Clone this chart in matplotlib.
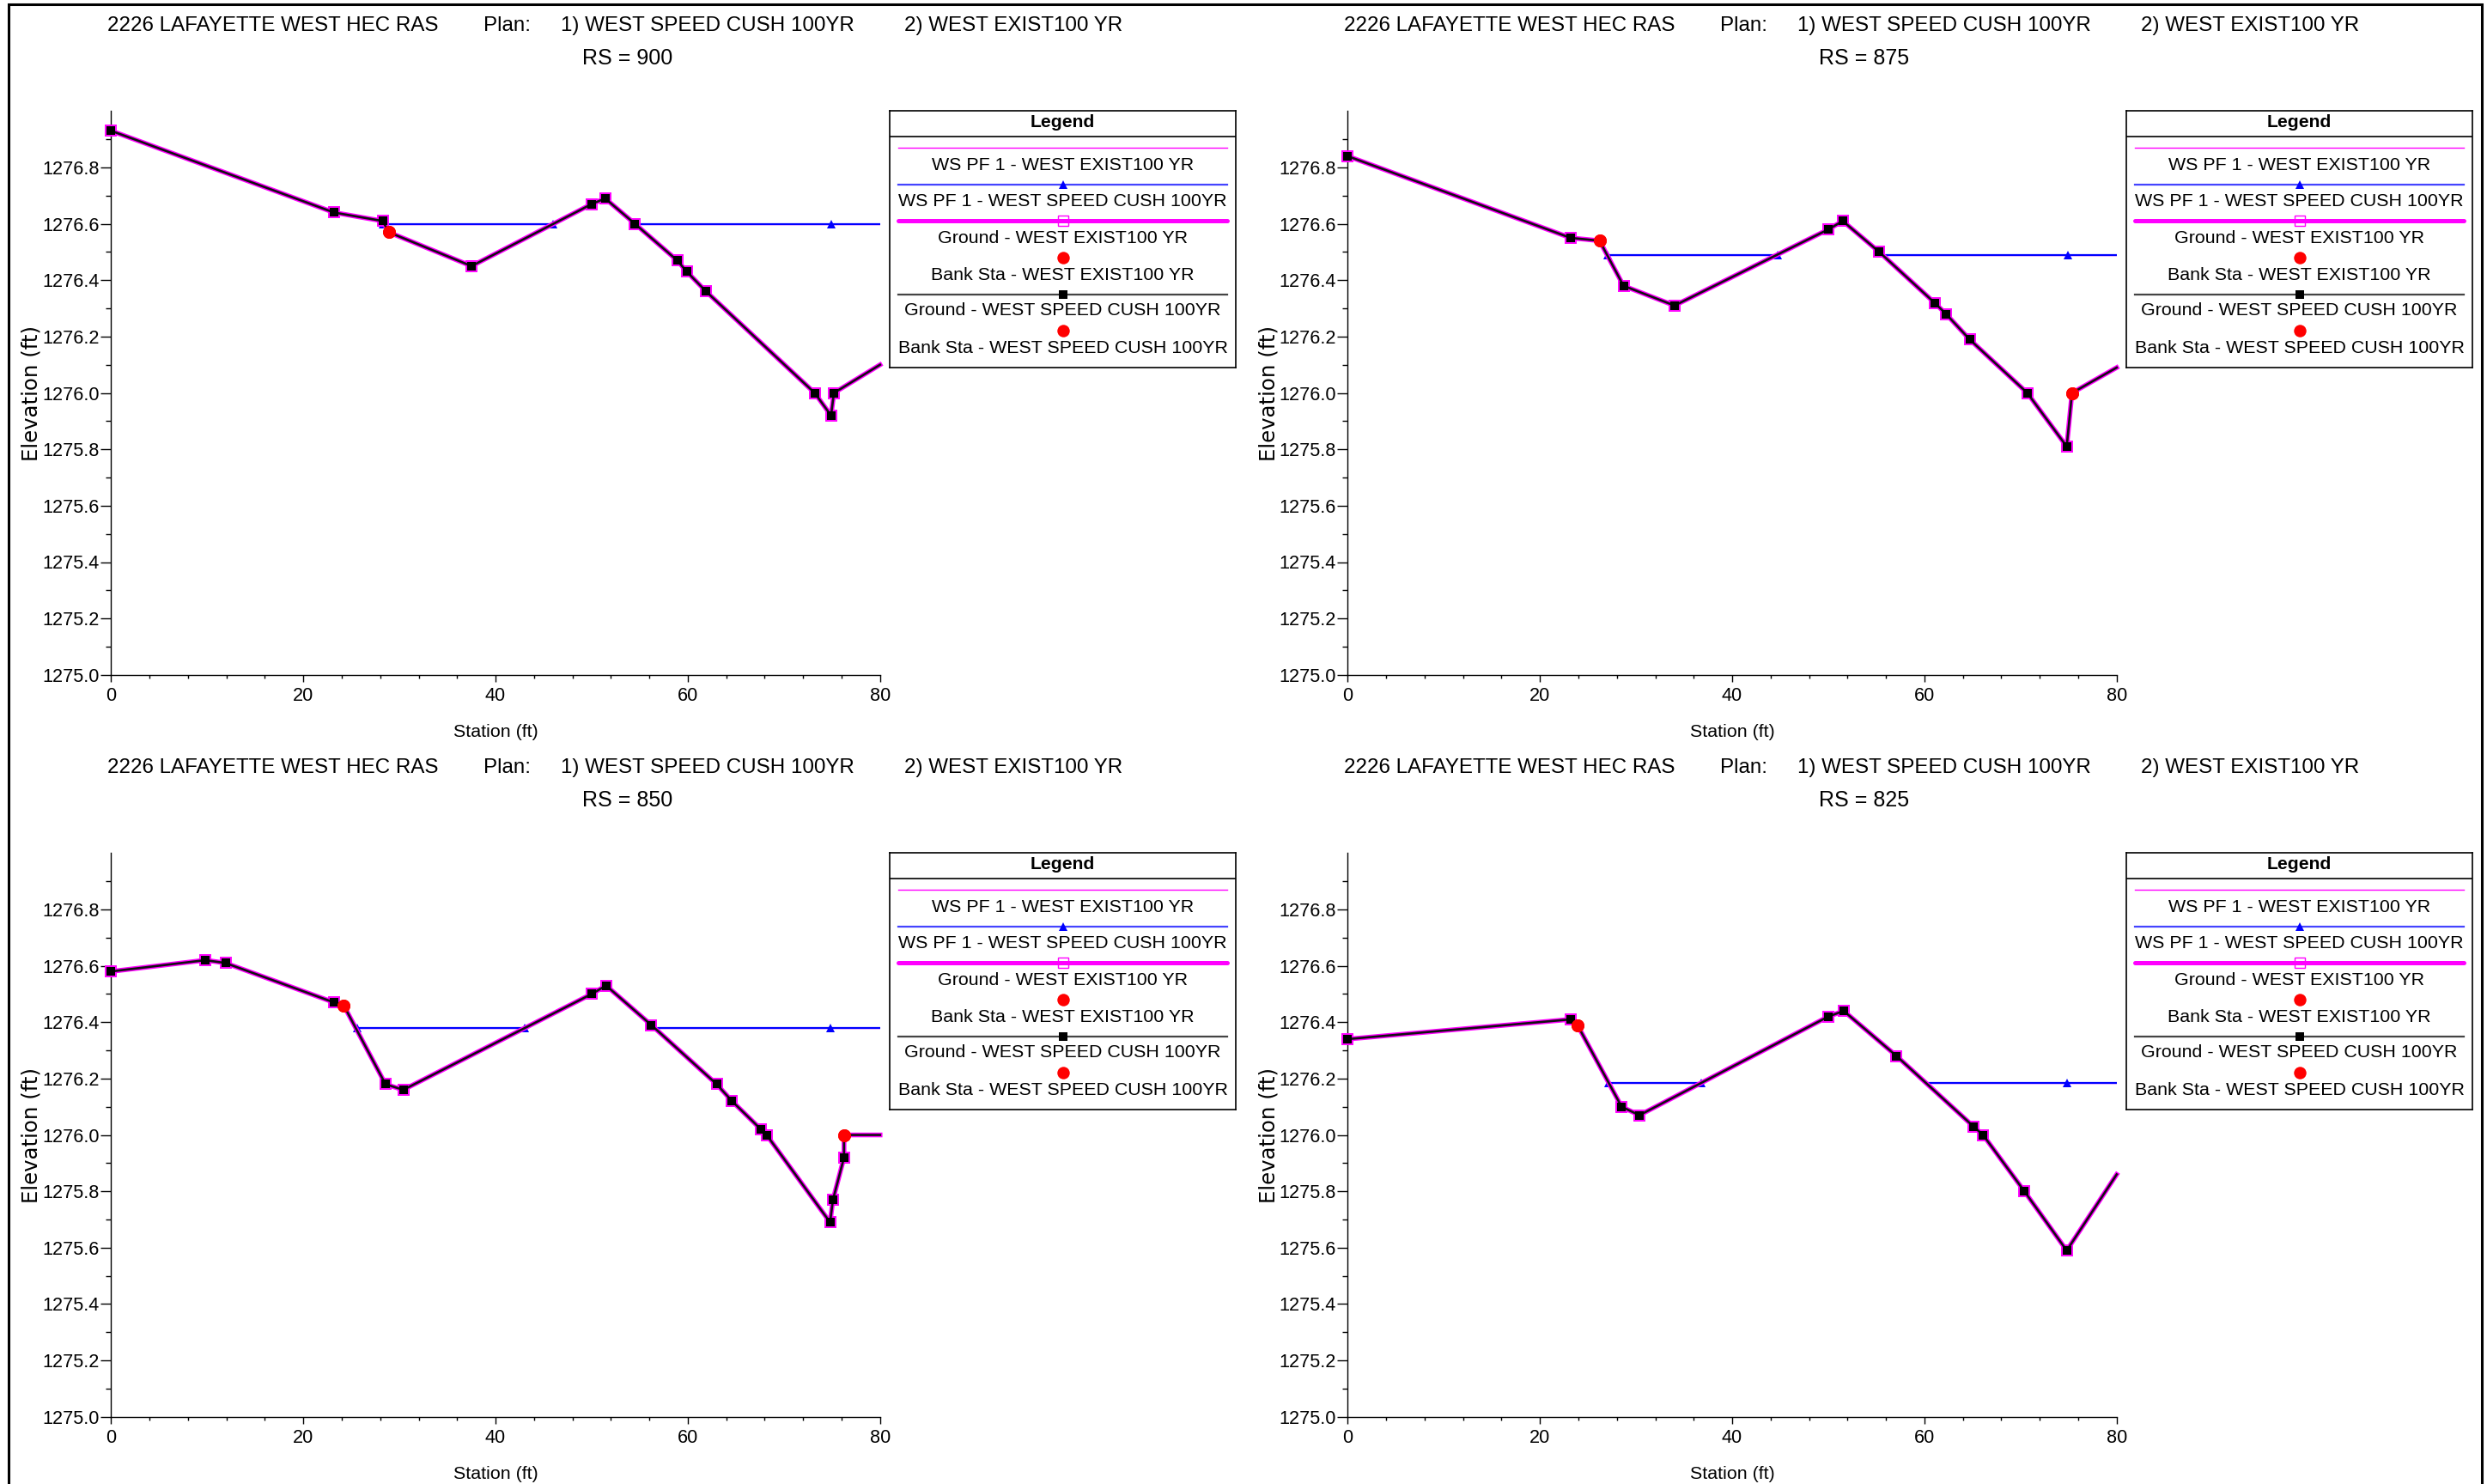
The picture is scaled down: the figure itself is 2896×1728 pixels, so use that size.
import numpy as np
import matplotlib
matplotlib.use("Agg")
import matplotlib.pyplot as plt
from matplotlib.patches import Rectangle

plt.rcParams['font.family'] = ['Liberation Sans', 'DejaVu Sans']

W, H = 2896, 1728
DPI = 200

nan = np.nan

# ---- data, one set per river station ----
rs_names = ["900", "875", "850", "825"]

ground_sta_900 = [0, 23.2, 28.25, 28.9, 37.5, 50.0, 51.4, 54.5, 58.9, 59.9, 61.9, 73.2, 74.9, 75.2, 80]
ground_elev_900 = [1276.93, 1276.64, 1276.61, 1276.57, 1276.45, 1276.67, 1276.69, 1276.60, 1276.47,
                   1276.43, 1276.36, 1276.00, 1275.92, 1276.00, 1276.10]
bank_sta_900 = [28.9]
bank_elev_900 = [1276.57]
ws_sta_900 = [28.25, 46.0, nan, 54.5, 80]
ws_mark_900 = [28.25, 46.0, 74.9]
ws_elev_900 = 1276.60

ground_sta_875 = [0, 23.2, 26.2, 28.7, 34.0, 50.0, 51.5, 55.3, 61.05, 62.25, 64.7, 70.7, 74.8, 75.35, 80]
ground_elev_875 = [1276.84, 1276.55, 1276.54, 1276.38, 1276.31, 1276.58, 1276.61, 1276.50, 1276.32,
                   1276.28, 1276.19, 1276.00, 1275.81, 1276.00, 1276.09]
bank_sta_875 = [26.2, 75.35]
bank_elev_875 = [1276.54, 1276.00]
ws_sta_875 = [27.0, 44.7, nan, 55.3, 80]
ws_mark_875 = [27.0, 44.7, 74.9]
ws_elev_875 = 1276.49

ground_sta_850 = [0, 9.8, 11.9, 23.2, 24.2, 28.55, 30.4, 50.0, 51.5, 56.2, 63.0, 64.6, 67.6, 68.2,
                  74.8, 75.1, 76.25, 76.25, 80]
ground_elev_850 = [1276.58, 1276.62, 1276.61, 1276.47, 1276.46, 1276.18, 1276.16, 1276.50, 1276.53,
                   1276.39, 1276.18, 1276.12, 1276.02, 1276.00, 1275.69, 1275.77, 1275.92, 1276.00, 1276.00]
bank_sta_850 = [24.2, 76.25]
bank_elev_850 = [1276.46, 1276.00]
ws_sta_850 = [25.6, 43.0, nan, 56.2, 80]
ws_mark_850 = [25.6, 43.0, 74.8]
ws_elev_850 = 1276.38

ground_sta_825 = [0, 23.2, 23.9, 28.5, 30.35, 50.0, 51.6, 57.1, 65.1, 66.1, 70.4, 74.8, 80]
ground_elev_825 = [1276.34, 1276.41, 1276.39, 1276.10, 1276.07, 1276.42, 1276.44, 1276.28, 1276.03,
                   1276.00, 1275.80, 1275.59, 1275.86]
bank_sta_825 = [23.9]
bank_elev_825 = [1276.39]
ws_sta_825 = [27.1, 36.8, nan, 60.3, 80]
ws_mark_825 = [27.1, 36.8, 74.8]
ws_elev_825 = 1276.185

title_parts = ["2226 LAFAYETTE WEST HEC RAS", "Plan:", "1) WEST SPEED CUSH 100YR", "2) WEST EXIST100 YR"]
legend_labels = ["WS PF 1 - WEST EXIST100 YR", "WS PF 1 - WEST SPEED CUSH 100YR",
                 "Ground - WEST EXIST100 YR", "Bank Sta - WEST EXIST100 YR",
                 "Ground - WEST SPEED CUSH 100YR", "Bank Sta - WEST SPEED CUSH 100YR"]

MAGENTA = '#ff00ff'
BLUE = '#0000ff'
RED = '#ff0000'


def fx(px):
    return px / W


def fy(py):
    return 1 - py / H


def draw_legend(fig, x0, y0):
    # legend box, sized in pixels of the reference
    lw_, lh_ = 403, 299
    lax = fig.add_axes([fx(x0), fy(y0 + lh_), lw_ / W, lh_ / H])
    lax.set_xlim(0, lw_)
    lax.set_ylim(lh_, 0)
    lax.set_xticks([])
    lax.set_yticks([])
    for s in lax.spines.values():
        s.set_linewidth(0.6)
    lax.axhline(30, color='black', lw=0.6)
    lax.text(lw_ / 2, 13, "Legend", ha='center', va='center', fontsize=7.6, fontweight='bold')
    xs = [10, 393]
    xm = lw_ / 2
    sym_y = [43, 86, 128, 171, 213.5, 256]
    txt_y = [63, 105, 148, 191.5, 232.5, 276]
    lax.plot(xs, [sym_y[0]] * 2, color=MAGENTA, lw=0.5)
    lax.plot(xs, [sym_y[1]] * 2, color='#4444ff', lw=0.8)
    lax.plot([xm], [sym_y[1]], marker='^', color=BLUE, ms=3.8, mew=0)
    lax.plot(xs, [sym_y[2]] * 2, color=MAGENTA, lw=1.8, solid_capstyle='round')
    lax.plot([xm], [sym_y[2]], marker='s', mfc='none', mec=MAGENTA, ms=4.2, mew=0.5)
    lax.plot([xm], [sym_y[3]], marker='o', color=RED, ms=5.2, mew=0)
    lax.plot(xs, [sym_y[4]] * 2, color='#444444', lw=0.8)
    lax.plot([xm], [sym_y[4]], marker='s', color='black', ms=3.5, mew=0)
    lax.plot([xm], [sym_y[5]], marker='o', color=RED, ms=5.2, mew=0)
    for lab, ty in zip(legend_labels, txt_y):
        lax.text(xm, ty, lab, ha='center', va='center', fontsize=7.7)


def draw_panel(fig, col, row, rs, g_sta, g_elev, b_sta, b_elev, w_sta, w_mark, w_elev):
    ox, oy = col * 1440, row * 864
    ax = fig.add_axes([fx(129.3 + ox), fy(785.8 + oy), 895.5 / W, 656.5 / H])

    w_y = [w_elev] * len(w_sta)
    ax.plot(w_sta, w_y, color=MAGENTA, lw=0.5, zorder=2)
    ax.plot(w_sta, w_y, color=BLUE, lw=0.8, zorder=3)
    ax.plot(w_mark, [w_elev] * len(w_mark), ls='none', marker='^', color=BLUE, ms=3.8, mew=0, zorder=3)

    # square markers on ground points, except the clipped end point and the bank stations
    n = len(g_sta)
    banks = list(zip(b_sta, b_elev))
    marks = [i for i in range(n - 1) if (g_sta[i], g_elev[i]) not in banks]
    ax.plot(g_sta, g_elev, color=MAGENTA, lw=2.0, marker='s', mfc='none', mec=MAGENTA,
            ms=4.6, mew=0.7, markevery=marks, zorder=4, solid_joinstyle='round', clip_on=False)
    ax.plot(g_sta, g_elev, color='#111111', lw=0.95, marker='s', mfc='black', mec='black',
            ms=3.6, mew=0, markevery=marks, zorder=5, clip_on=False)
    ax.plot(b_sta, b_elev, ls='none', marker='o', color=RED, ms=5.4, mew=0, zorder=6, clip_on=False)
    ax.plot(b_sta, b_elev, ls='none', marker='o', color=RED, ms=5.4, mew=0, zorder=6, clip_on=False)

    ax.set_xlim(0, 80)
    ax.set_ylim(1275.0, 1277.0)
    ax.set_xticks([0, 20, 40, 60, 80])
    ax.set_xticks(np.arange(0, 81, 4), minor=True)
    ax.set_yticks(np.round(np.arange(1275.0, 1276.81, 0.2), 1))
    ax.set_yticks(np.round(np.arange(1275.1, 1276.91, 0.2), 1), minor=True)
    ax.set_yticklabels([f"{v:.1f}" for v in np.arange(1275.0, 1276.81, 0.2)])
    for s in ['top', 'right']:
        ax.spines[s].set_visible(False)
    for s in ['left', 'bottom']:
        ax.spines[s].set_linewidth(0.5)
    ax.tick_params(axis='y', which='major', length=4.3, width=0.5, labelsize=7.8, pad=0.6)
    ax.tick_params(axis='y', which='minor', length=2.2, width=0.5)
    ax.tick_params(axis='x', which='major', length=3.0, width=0.5, labelsize=7.8, pad=2.2)
    ax.tick_params(axis='x', which='minor', length=1.6, width=0.5)

    # titles and axis labels placed like the HEC-RAS plot
    tx = [125, 563, 653, 1053]
    for t, x in zip(title_parts, tx):
        fig.text(fx(x + ox), fy(30 + oy), t, ha='left', va='center', fontsize=8.7)
    fig.text(fx(731 + ox), fy(68 + oy), f"RS = {rs}", ha='center', va='center', fontsize=9.0)
    fig.text(fx(577 + ox), fy(852 + oy), "Station (ft)", ha='center', va='center', fontsize=7.7)
    fig.text(fx(37 + ox), fy(458 + oy), "Elevation (ft)", ha='center', va='center', rotation=90,
             fontsize=8.8, family='DejaVu Sans')

    draw_legend(fig, 1036 + ox, 129.3 + oy)


fig = plt.figure(figsize=(W / DPI, H / DPI), dpi=DPI)

panels = [
    (0, 0, rs_names[0], ground_sta_900, ground_elev_900, bank_sta_900, bank_elev_900, ws_sta_900, ws_mark_900, ws_elev_900),
    (1, 0, rs_names[1], ground_sta_875, ground_elev_875, bank_sta_875, bank_elev_875, ws_sta_875, ws_mark_875, ws_elev_875),
    (0, 1, rs_names[2], ground_sta_850, ground_elev_850, bank_sta_850, bank_elev_850, ws_sta_850, ws_mark_850, ws_elev_850),
    (1, 1, rs_names[3], ground_sta_825, ground_elev_825, bank_sta_825, bank_elev_825, ws_sta_825, ws_mark_825, ws_elev_825),
]
for p in panels:
    draw_panel(fig, *p)

# outer frame (bottom edge is cut off in the reference)
frame = Rectangle((fx(10), -0.05), fx(2890) - fx(10), fy(5) + 0.05, transform=fig.transFigure,
                  fill=False, lw=1.1, edgecolor='black', clip_on=False)
fig.add_artist(frame)

fig.savefig("out.png", dpi=DPI)
